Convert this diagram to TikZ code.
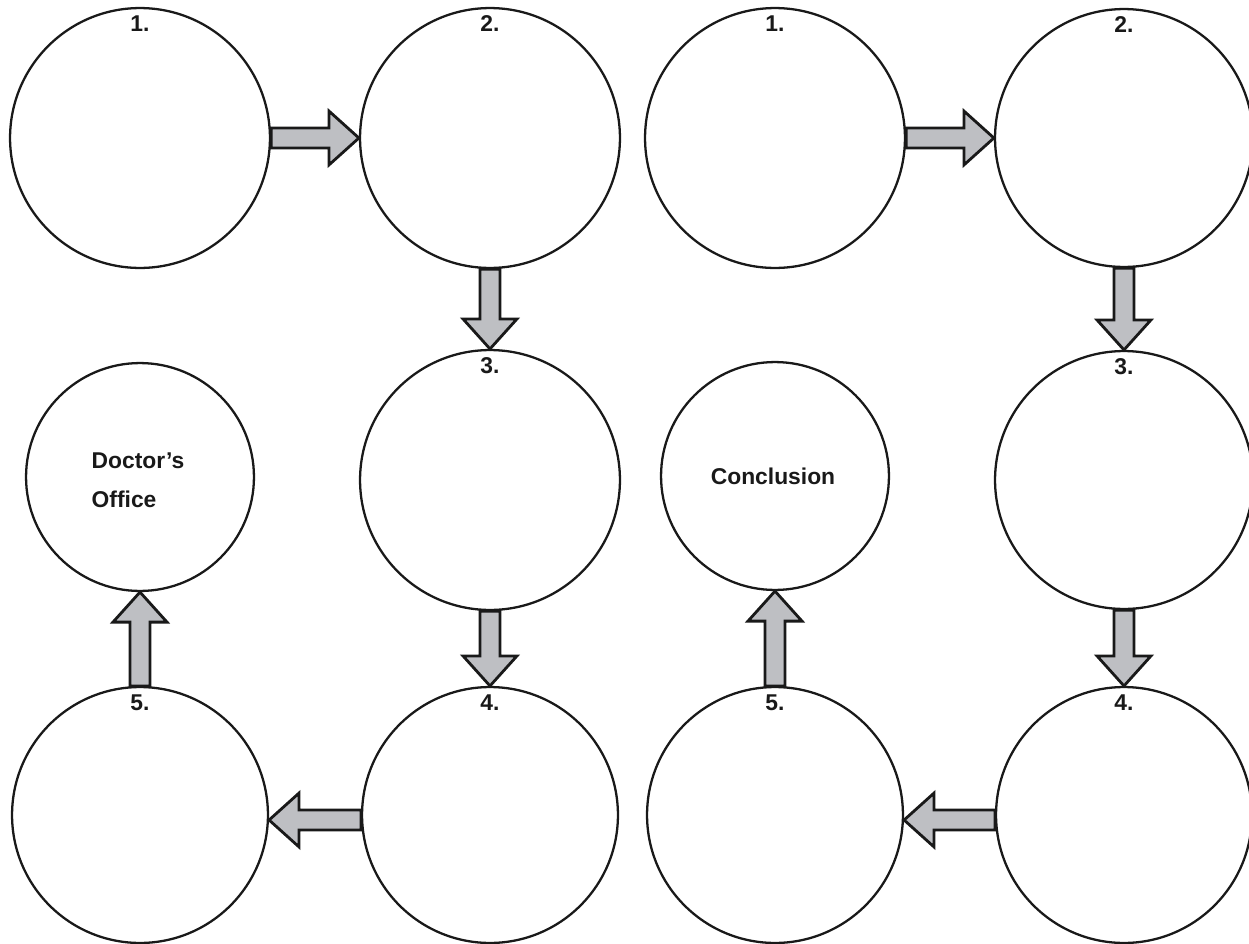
\documentclass[tikz,border=0pt]{standalone}
\usepackage{fontspec}
\setmainfont{Liberation Sans}
\usetikzlibrary{calc}
\definecolor{arrowgray}{RGB}{190,191,195}
\tikzset{
  bigcirc/.style={circle, draw=black!90, line width=1.3pt, inner sep=0pt, minimum size=#1*0.04cm},
  numlabel/.style={font=\fontsize{13}{14}\selectfont\bfseries, text=black!90, inner sep=0pt},
  namelabel/.style={font=\fontsize{13}{22}\selectfont\bfseries, text=black!90, inner sep=0pt},
  blockarrow/.style={draw=black!90, fill=arrowgray, line width=1.6pt, line join=miter},
}
% #1 start node anchor, #2 target node anchor
\newcommand\blockarrow[2]{%
  \path ($(#2)!0.6cm!(#1)$) coordinate (hb);
  \draw[blockarrow] ($(#1)!0.2cm!90:(#2)$) -- ($(hb)!0.2cm!-90:(#1)$) -- ($(hb)!0.54cm!-90:(#1)$)
     -- (#2) -- ($(hb)!0.54cm!90:(#1)$) -- ($(hb)!0.2cm!90:(#1)$) -- ($(#1)!0.2cm!-90:(#2)$) -- cycle;
}
\begin{document}
\begin{tikzpicture}[x=0.02cm, y=-0.02cm]
\useasboundingbox (0,0) rectangle (1249,944);
% left block
\node[bigcirc=130] (a1) at (140,138) {};
\node[bigcirc=130] (a2) at (490,138) {};
\node[bigcirc=130] (a3) at (490,480) {};
\node[bigcirc=128] (a4) at (490,815) {};
\node[bigcirc=128] (a5) at (140,815) {};
\node[bigcirc=114] (ad) at (140,477) {};
% right block
\node[bigcirc=130] (b1) at (775,138) {};
\node[bigcirc=129] (b2) at (1124,138) {};
\node[bigcirc=129] (b3) at (1124,480) {};
\node[bigcirc=128] (b4) at (1124,815) {};
\node[bigcirc=128] (b5) at (775,815) {};
\node[bigcirc=114] (bc) at (775,476) {};
% number labels
\node[numlabel] (la1) at ($(a1.north)+(0,17)$) {1.};
\node[numlabel] (la2) at ($(a2.north)+(0,17)$) {2.};
\node[numlabel] (la3) at ($(a3.north)+(0,17)$) {3.};
\node[numlabel] (la4) at ($(a4.north)+(0,17)$) {4.};
\node[numlabel] (la5) at ($(a5.north)+(0,17)$) {5.};
\node[numlabel] (lb1) at ($(b1.north)+(0,17)$) {1.};
\node[numlabel] (lb2) at ($(b2.north)+(0,17)$) {2.};
\node[numlabel] (lb3) at ($(b3.north)+(0,17)$) {3.};
\node[numlabel] (lb4) at ($(b4.north)+(0,17)$) {4.};
\node[numlabel] (lb5) at ($(b5.north)+(0,17)$) {5.};
\node[namelabel, align=left] (ldoc) at ($(ad.center)+(-2,3)$) {Doctor’s\\Office};
\node[namelabel] (lcon) at ($(bc.center)+(-2,0)$) {Conclusion};
% arrows
\blockarrow{a1.east}{a2.west}
\blockarrow{a2.south}{a3.north}
\blockarrow{a3.south}{a4.north}
\blockarrow{$(a4.west)+(0,5)$}{$(a5.east)+(0,5)$}
\blockarrow{a5.north}{ad.south}
\blockarrow{b1.east}{b2.west}
\blockarrow{b2.south}{b3.north}
\blockarrow{b3.south}{b4.north}
\blockarrow{$(b4.west)+(0,5)$}{$(b5.east)+(0,5)$}
\blockarrow{b5.north}{bc.south}
\end{tikzpicture}
\end{document}
